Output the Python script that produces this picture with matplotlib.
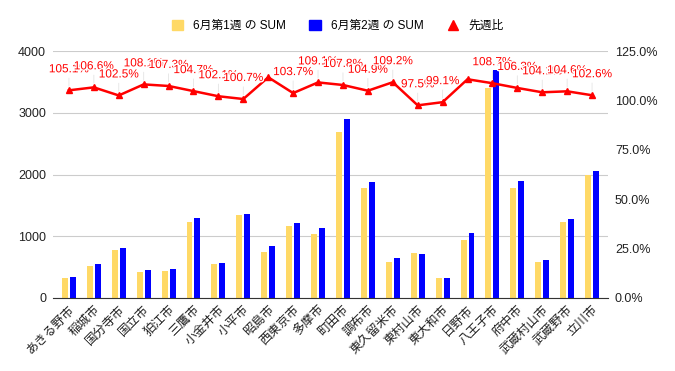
import numpy as np
import matplotlib
matplotlib.use('Agg')
import matplotlib.pyplot as plt
import matplotlib.patheffects as pe
from matplotlib.patches import Patch
from matplotlib.lines import Line2D

plt.rcParams['font.family'] = ['Liberation Sans', 'Noto Sans CJK JP', 'DejaVu Sans']

# データ
cities = ['あきる野市', '稲城市', '国分寺市', '国立市', '狛江市', '三鷹市', '小金井市', '小平市',
          '昭島市', '西東京市', '多摩市', '町田市', '調布市', '東久留米市', '東村山市', '東大和市',
          '日野市', '八王子市', '府中市', '武蔵村山市', '武蔵野市', '立川市']
week1 = [319, 518, 777, 421, 437, 1231, 550, 1344, 745, 1166, 1036, 2688,
         1781, 583, 729, 324, 939, 3401, 1781, 583, 1231, 1992]
week2 = [340, 550, 810, 453, 470, 1295, 567, 1360, 842, 1214, 1133, 2894,
         1878, 648, 712, 324, 1053, 3692, 1895, 615, 1279, 2057]
ratio = [105.1, 106.6, 102.5, 108.1, 107.3, 104.7, 102.1, 100.7, 111.7, 103.7, 109.1, 107.8,
         104.9, 109.2, 97.5, 99.1, 110.7, 108.7, 106.3, 104.1, 104.6, 102.6]
# Google側で表示されていないラベル
hidden = ['昭島市', '日野市']

fig = plt.figure(figsize=(6.75, 3.71), dpi=100)
ax = fig.add_axes([53 / 675, 1 - 298 / 371, 555 / 675, 247 / 371])
ax2 = ax.twinx()

x = np.arange(len(cities))
w = 0.24
ax.bar(x - 0.16, week1, width=w, color='#ffd966', zorder=2)
ax.bar(x + 0.16, week2, width=w, color='#0000ff', zorder=2)

ax.set_ylim(0, 4000)
ax.set_yticks([0, 1000, 2000, 3000, 4000])
ax.set_xlim(-0.64, len(cities) - 0.36)
ax.set_xticks(x)
ax.set_xticklabels(cities, rotation=45, ha='right', rotation_mode='anchor', fontsize=8.5,
                   color='#222222')
ax.grid(axis='y', color='#cccccc', lw=0.8, zorder=0)
ax.set_axisbelow(True)
for s in ['top', 'left', 'right']:
    ax.spines[s].set_visible(False)
ax.spines['bottom'].set_color('#333333')
ax.tick_params(axis='both', length=0, labelsize=9, colors='#222222', pad=5)
ax.tick_params(axis='x', pad=4)

ax2.plot(x, ratio, color='#ff0000', lw=1.8, marker='^', ms=5, zorder=3)
ax2.set_ylim(0, 125)
ax2.set_yticks([0, 25, 50, 75, 100, 125])
ax2.set_yticklabels(['%.1f%%' % v for v in [0, 25, 50, 75, 100, 125]])
ax2.tick_params(axis='y', length=0, labelsize=9, colors='#222222', pad=5)
for s in ax2.spines.values():
    s.set_visible(False)

for i, r in enumerate(ratio):
    if cities[i] in hidden:
        continue
    ax2.annotate('%.1f%%' % r, (i, r), xytext=(0, 21), textcoords='offset pixels',
                 ha='center', va='center', fontsize=8.5, color='#ff0000',
                 path_effects=[pe.withStroke(linewidth=2, foreground='white')],
                 arrowprops=dict(arrowstyle='-', color='#e4e4e4', lw=0.6, shrinkA=0, shrinkB=3),
                 zorder=4)

handles = [Patch(color='#ffd966'), Patch(color='#0000ff'),
           Line2D([], [], color='#ff0000', marker='^', ls='none', ms=7)]
fig.legend(handles, ['6月第1週 の SUM', '6月第2週 の SUM', '先週比'], loc='upper center',
           bbox_to_anchor=(0.5, 0.975), ncol=3, frameon=False, fontsize=8.5,
           handlelength=1.0, handleheight=1.0, columnspacing=2.0, handletextpad=0.8)

fig.savefig('out.png', dpi=100)
